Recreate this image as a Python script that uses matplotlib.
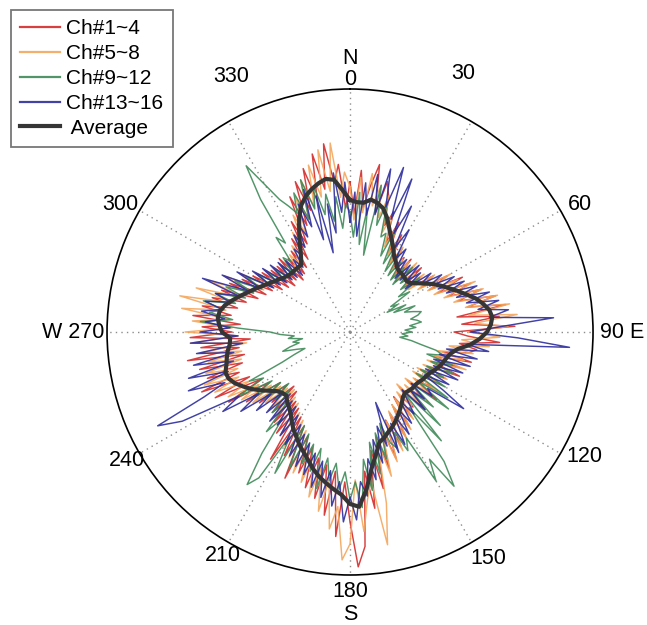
import numpy as np
import matplotlib.pyplot as plt

plt.rcParams['font.family'] = ['Liberation Sans', 'DejaVu Sans']

# Angles (compass degrees, clockwise from north)
theta_ch = np.arange(0, 360, 2)     # channel traces, 2 deg step
theta_avg = np.arange(0, 360, 3)    # average trace, 3 deg step
r_max = 243.0

# Ch#1~4 (red)
ch_1_4 = [
    150, 118, 162, 125, 148, 170, 122, 155, 140, 112,
    128, 96, 120, 88, 110, 80, 98, 75, 92, 70,
    95, 68, 88, 72, 96, 70, 90, 78, 100, 84,
    112, 90, 125, 96, 130, 104, 138, 112, 150, 120,
    158, 108, 150, 112, 165, 104, 118, 150, 110, 128,
    120, 95, 125, 88, 115, 92, 118, 84, 106, 80,
    105, 78, 100, 80, 110, 75, 96, 82, 108, 74,
    98, 80, 104, 78, 112, 86, 118, 90, 125, 95,
    135, 100, 142, 108, 160, 120, 178, 140, 215, 235,
    190, 150, 205, 140, 185, 135, 170, 130, 162, 122,
    150, 112, 160, 105, 140, 98, 150, 92, 125, 88,
    118, 80, 112, 78, 105, 82, 115, 86, 125, 95,
    140, 100, 150, 110, 160, 118, 150, 112, 155, 108,
    165, 112, 150, 100, 160, 118, 148, 110, 158, 120,
    150, 115, 142, 108, 135, 98, 130, 92, 120, 88,
    112, 80, 106, 76, 100, 72, 98, 75, 102, 70,
    96, 74, 100, 78, 110, 85, 125, 98, 148, 115,
    160, 128, 170, 135, 182, 145, 190, 150, 168, 124,
]

# Ch#5~8 (orange)
ch_5_8 = [
    145, 112, 155, 120, 160, 128, 150, 118, 142, 105,
    125, 92, 115, 85, 106, 78, 100, 72, 90, 68,
    92, 70, 96, 74, 88, 68, 94, 72, 102, 80,
    116, 88, 120, 92, 135, 100, 140, 108, 152, 118,
    162, 120, 168, 125, 158, 118, 150, 112, 140, 100,
    125, 90, 118, 86, 122, 82, 112, 80, 108, 76,
    102, 74, 106, 78, 98, 72, 104, 76, 100, 70,
    96, 76, 108, 80, 115, 84, 122, 88, 130, 96,
    138, 102, 150, 112, 175, 216, 150, 168, 200, 148,
    212, 228, 175, 198, 150, 182, 138, 170, 128, 158,
    120, 152, 108, 140, 100, 132, 95, 125, 88, 118,
    85, 112, 80, 108, 84, 110, 88, 120, 95, 128,
    105, 138, 112, 148, 120, 155, 118, 150, 112, 145,
    110, 150, 104, 160, 112, 165, 118, 158, 122, 170,
    126, 174, 120, 160, 112, 150, 104, 138, 96, 125,
    92, 112, 88, 106, 82, 100, 80, 98, 78, 96,
    80, 98, 84, 104, 90, 115, 96, 130, 108, 145,
    120, 160, 130, 172, 138, 185, 142, 190, 135, 160,
]

# Ch#9~12 (green)
ch_9_12 = [
    120, 95, 140, 88, 125, 78, 150, 110, 135, 100,
    105, 82, 112, 76, 98, 70, 92, 68, 86, 66,
    84, 64, 90, 70, 82, 66, 88, 60, 72, 48,
    55, 42, 62, 48, 70, 58, 66, 74, 70, 62,
    68, 72, 60, 66, 55, 62, 52, 58, 50, 62,
    72, 88, 96, 80, 108, 86, 112, 84, 104, 80,
    110, 78, 118, 84, 125, 80, 112, 86, 130, 78,
    142, 96, 160, 186, 150, 172, 120, 132, 110, 125,
    118, 96, 132, 104, 145, 112, 160, 128, 176, 150,
    168, 140, 158, 132, 150, 128, 160, 120, 145, 118,
    140, 110, 150, 104, 160, 120, 172, 184, 150, 110,
    130, 92, 112, 84, 100, 80, 108, 86, 118, 92,
    130, 98, 112, 74, 60, 48, 56, 70, 62, 52,
    58, 48, 62, 56, 70, 80, 112, 150, 118, 142,
    128, 150, 118, 140, 110, 132, 104, 126, 98, 118,
    90, 108, 86, 100, 82, 96, 80, 94, 84, 100,
    92, 120, 110, 160, 196, 170, 150, 140, 130, 150,
    120, 160, 128, 150, 120, 140, 112, 136, 104, 128,
]

# Ch#13~16 (blue)
ch_13_16 = [
    110, 140, 96, 150, 118, 160, 120, 168, 130, 173,
    120, 165, 108, 140, 95, 118, 86, 100, 78, 92,
    70, 90, 72, 96, 76, 92, 70, 100, 86, 108,
    92, 118, 98, 125, 104, 135, 112, 145, 120, 152,
    130, 160, 140, 204, 150, 120, 168, 220, 118, 140,
    98, 130, 92, 125, 88, 120, 90, 118, 84, 112,
    86, 110, 137, 96, 104, 80, 100, 84, 108, 78,
    90, 104, 86, 110, 92, 118, 96, 125, 100, 130,
    75, 120, 98, 135, 110, 150, 128, 165, 150, 188,
    165, 190, 150, 175, 140, 168, 132, 160, 126, 150,
    118, 145, 112, 138, 105, 130, 98, 125, 92, 118,
    90, 120, 86, 116, 90, 122, 100, 135, 110, 150,
    128, 190, 214, 160, 135, 172, 128, 168, 120, 160,
    118, 155, 108, 160, 112, 150, 120, 145, 126, 150,
    130, 148, 124, 140, 118, 157, 110, 140, 100, 128,
    88, 115, 84, 108, 80, 104, 78, 100, 76, 96,
    74, 92, 80, 100, 90, 112, 96, 120, 104, 138,
    112, 150, 96, 140, 81, 130, 100, 160, 120, 150,
]

# Average over all channels
average = [
    132, 130, 130, 134, 132, 128, 120, 110, 102, 95,
    88, 84, 80, 78, 78, 77, 76, 78, 83, 89,
    96, 102, 108, 115, 122, 130, 136, 141, 143, 141,
    137, 130, 121, 109, 103, 100, 98, 96, 93, 90,
    88, 87, 85, 84, 84, 83, 82, 84, 88, 92,
    96, 100, 104, 107, 111, 114, 125, 138, 158, 175,
    172, 163, 158, 153, 148, 142, 135, 129, 124, 118,
    113, 107, 101, 97, 94, 90, 91, 94, 100, 107,
    114, 120, 126, 130, 131, 128, 126, 124, 121, 120,
    128, 131, 133, 132, 128, 122, 116, 110, 105, 100,
    96, 92, 89, 86, 84, 83, 83, 83, 83, 90,
    100, 112, 125, 136, 143, 148, 152, 155, 153, 142,
]

groups = [
    ('Ch#1~4', ch_1_4, '#d42a2a'),
    ('Ch#5~8', ch_5_8, '#f4a65c'),
    ('Ch#9~12', ch_9_12, '#3e8a58'),
    ('Ch#13~16', ch_13_16, '#2c2c9c'),
]

# angle labels: (text, angle deg, radius factor)
angle_labels = [
    ('30', 23.7, 1.16), ('60', 61, 1.08), ('120', 118, 1.09),
    ('150', 148.6, 1.09), ('210', 209.7, 1.06), ('240', 240, 1.06),
    ('300', 299, 1.08), ('330', 335, 1.16),
]


def closed(deg, vals):
    th = np.deg2rad(np.append(deg, deg[0]))
    rr = np.append(np.asarray(vals, dtype=float), vals[0])
    return th, rr


fig = plt.figure(figsize=(6.47, 6.25), dpi=100)
ax = fig.add_axes([0.1654, 0.08, 0.7512, 0.7776], projection='polar')
ax.set_theta_zero_location('N')
ax.set_theta_direction(-1)

for label, vals, color in groups:
    th, rr = closed(theta_ch, vals)
    ax.plot(th, rr, color=color, linewidth=1.05, alpha=0.9, label=label)

th, rr = closed(theta_avg, average)
ax.plot(th, rr, color='#353535', linewidth=3.0, label=' Average')

ax.set_ylim(0, r_max)
ax.set_yticks([])
ax.set_xticks(np.deg2rad(np.arange(0, 360, 30)))
ax.set_xticklabels([])
ax.xaxis.grid(True, color='#8c8c8c', linestyle=(0, (1, 3)), linewidth=1.0)
ax.spines['polar'].set_color('black')
ax.spines['polar'].set_linewidth(1.2)

# Direction labels
fs = 15.5
ax.text(0, r_max * 0.995, 'N\n0', ha='center', va='bottom', fontsize=fs,
        linespacing=1.0)
ax.text(np.pi, r_max * 1.025, '180\nS', ha='center', va='top', fontsize=fs,
        linespacing=1.15)
ax.text(np.pi / 2, r_max * 1.03, '90 E', ha='left', va='center', fontsize=fs)
ax.text(3 * np.pi / 2, r_max * 1.01, 'W 270', ha='right', va='center',
        fontsize=fs)
for txt, deg, fac in angle_labels:
    ax.text(np.deg2rad(deg), r_max * fac, txt, ha='center', va='center',
            fontsize=fs)

leg = fig.legend(loc='upper left', bbox_to_anchor=(11 / 647, 1 - 10 / 625),
                 fontsize=15, frameon=True, fancybox=False, handlelength=1.9,
                 handletextpad=0.3, labelspacing=0.28, borderpad=0.45,
                 borderaxespad=0)
leg.get_frame().set_edgecolor('#555555')
leg.get_frame().set_linewidth(1.3)
for h in leg.get_lines()[:4]:
    h.set_linewidth(1.6)

fig.savefig('out.png', dpi=100)
